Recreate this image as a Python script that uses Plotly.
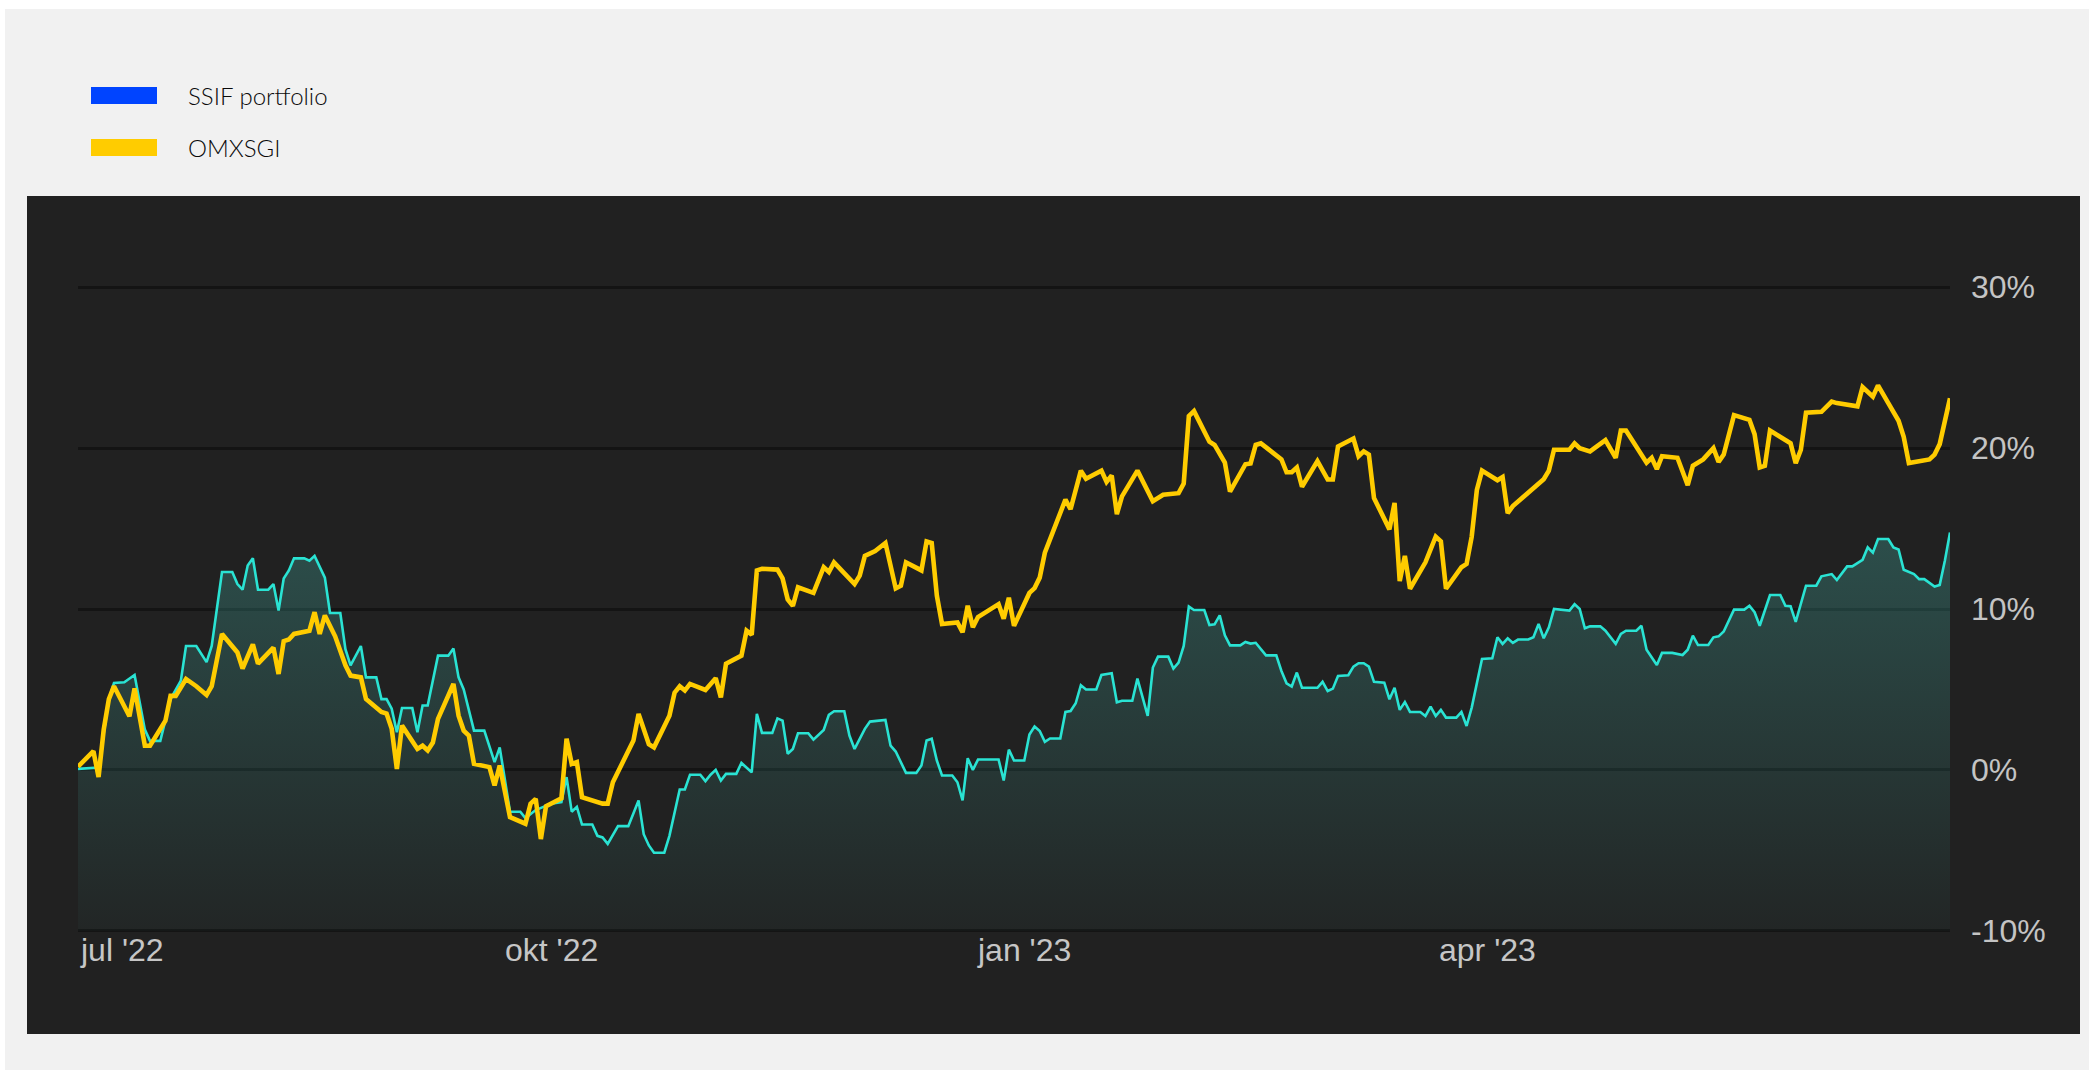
import pandas as pd
import plotly.graph_objects as go

# Start of the period; series positions are given as days since this date
START = pd.Timestamp("2022-07-01")
END = pd.Timestamp("2023-06-30")

# OMXSGI cumulative return (%)
omx_day = [0, 3, 4, 5, 6, 7, 10, 11, 13, 14, 17, 18, 19, 21, 23, 25, 26, 28, 31, 32,
           34, 35, 38, 39, 40, 41, 42, 45, 46, 47, 48, 50, 52, 53, 55, 56, 59, 60, 61, 62,
           63, 66, 67, 68, 69, 70, 73, 74, 75, 76, 77, 80, 81, 82, 84, 87, 88, 89, 90, 91,
           94, 95, 96, 97, 98, 102, 103, 104, 108, 109, 111, 112, 115, 116, 117, 118, 119, 122, 124, 125,
           126, 129, 130, 131, 132, 133, 136, 137, 138, 139, 140, 143, 145, 146, 147, 151, 152, 153, 155, 157,
           159, 160, 161, 164, 165, 166, 167, 168, 171, 172, 173, 174, 175, 179, 180, 181, 182, 185, 186, 187,
           188, 189, 192, 193, 195, 196, 199, 200, 201, 202, 203, 206, 209, 211, 214, 215, 216, 217, 220, 221,
           223, 224, 227, 228, 229, 230, 232, 234, 235, 236, 237, 238, 241, 243, 244, 245, 248, 249, 250, 251,
           252, 255, 256, 257, 258, 259, 262, 264, 265, 266, 269, 270, 271, 272, 273, 276, 277, 278, 279, 285,
           286, 287, 290, 291, 292, 294, 297, 299, 300, 301, 305, 306, 307, 308, 311, 313, 314, 316, 318, 319,
           320, 322, 325, 326, 327, 328, 329, 333, 334, 335, 336, 339, 341, 342, 346, 347, 349, 350, 352, 354,
           355, 356, 360, 361, 362, 363, 364]
omx_pct = [0.2, 1.16, -0.45, 2.5, 4.4, 5.2, 3.33, 5.07, 1.5, 1.5, 3.06, 4.6, 4.6, 5.65, 5.2, 4.66, 5.2, 8.45, 7.3, 6.3,
           7.8, 6.6, 7.6, 5.96, 8.0, 8.1, 8.45, 8.65, 9.8, 8.45, 9.6, 8.3, 6.5, 5.86, 5.75, 4.4, 3.6, 3.5, 2.55, 0.06,
           2.75, 1.3, 1.5, 1.2, 1.7, 3.17, 5.34, 3.37, 2.44, 2.13, 0.37, 0.17, -0.97, 0.27, -2.94, -3.35, -2.1, -1.8, -4.3, -2.26,
           -1.76, 1.93, 0.37, 0.48, -1.7, -2.1, -2.1, -0.77, 1.82, 3.48, 1.6, 1.4, 3.37, 4.8, 5.2, 4.93, 5.34, 4.97, 5.7, 4.5,
           6.6, 7.1, 8.65, 8.4, 12.4, 12.5, 12.45, 11.9, 10.6, 10.2, 11.35, 11.0, 12.6, 12.3, 12.9, 11.55, 12.07, 13.3, 13.6, 14.1,
           11.28, 11.45, 12.9, 12.4, 14.2, 14.1, 10.83, 9.07, 9.17, 8.55, 10.2, 8.86, 9.5, 10.3, 9.4, 10.7, 8.95, 11.0, 11.3, 11.95,
           13.5, 14.3, 16.8, 16.2, 18.6, 18.1, 18.6, 17.9, 18.3, 15.9, 17.0, 18.6, 16.7, 17.1, 17.2, 17.8, 22.0, 22.3, 20.4, 20.2,
           19.1, 17.3, 19.0, 19.05, 20.2, 20.3, 19.8, 19.3, 18.5, 18.5, 18.8, 17.6, 19.2, 18.05, 18.05, 20.1, 20.6, 19.5, 19.8, 19.6,
           16.9, 14.95, 16.6, 11.74, 13.3, 11.26, 12.9, 14.5, 14.2, 11.26, 12.6, 12.8, 14.5, 17.4, 18.6, 18.0, 18.2, 15.96, 16.4, 18.07,
           18.6, 19.9, 19.9, 20.3, 20.0, 19.8, 20.5, 19.4, 21.1, 21.1, 19.1, 19.4, 18.7, 19.5, 19.4, 17.7, 18.9, 19.3, 20.0, 19.15,
           19.6, 22.05, 21.76, 20.87, 18.8, 18.9, 21.1, 20.3, 19.07, 19.9, 22.2, 22.26, 22.9, 22.8, 22.6, 23.8, 23.2, 23.9, 22.8, 21.7,
           20.7, 19.07, 19.3, 19.6, 20.25, 21.6, 23.1]

# SSIF portfolio cumulative return (%)
ssif_day = [0, 3, 4, 6, 7, 9, 10, 11, 13, 14, 16, 18, 20, 21, 23, 25, 26, 28, 30, 31,
            32, 33, 34, 35, 37, 38, 39, 40, 41, 42, 44, 45, 46, 47, 48, 49, 51, 52, 53, 55,
            56, 58, 59, 60, 61, 62, 63, 65, 66, 67, 68, 70, 72, 73, 74, 75, 77, 79, 81, 82,
            84, 86, 87, 89, 92, 94, 95, 96, 97, 98, 100, 101, 102, 103, 105, 107, 109, 110, 111, 112,
            114, 115, 117, 118, 119, 121, 122, 123, 124, 125, 126, 128, 129, 131, 132, 133, 135, 136, 137, 138,
            139, 140, 142, 143, 145, 146, 147, 149, 150, 151, 153, 154, 157, 158, 159, 161, 163, 164, 165, 166,
            167, 168, 170, 171, 172, 173, 174, 175, 179, 180, 181, 182, 184, 185, 186, 187, 188, 189, 191, 192,
            193, 194, 195, 196, 198, 199, 201, 202, 203, 205, 206, 208, 209, 210, 212, 213, 214, 215, 216, 217,
            219, 220, 221, 222, 223, 224, 226, 227, 228, 229, 231, 233, 234, 235, 236, 237, 238, 241, 242, 243,
            244, 245, 247, 248, 249, 250, 251, 252, 254, 255, 256, 257, 258, 259, 261, 262, 263, 264, 265, 266,
            268, 269, 270, 271, 273, 275, 276, 277, 278, 279, 280, 282, 283, 284, 285, 286, 287, 290, 291, 292,
            293, 294, 296, 297, 299, 300, 301, 303, 304, 305, 307, 308, 310, 312, 313, 314, 315, 317, 318, 319,
            320, 322, 324, 325, 326, 327, 329, 331, 332, 333, 334, 336, 338, 339, 341, 342, 344, 345, 347, 348,
            349, 350, 352, 353, 354, 355, 357, 358, 359, 361, 362, 363, 364]
ssif_pct = [0.06, 0.1, 0.15, 4.4, 5.4, 5.45, 5.65, 5.9, 2.5, 1.8, 1.8, 4.4, 5.55, 7.7, 7.7, 6.7, 7.7, 12.3, 12.3, 11.55,
            11.2, 12.7, 13.15, 11.2, 11.2, 11.55, 9.9, 11.9, 12.4, 13.15, 13.15, 13.0, 13.3, 12.6, 11.95, 9.75, 9.75, 7.5, 6.5, 7.7,
            5.75, 5.75, 4.4, 4.4, 3.8, 2.34, 3.85, 3.85, 2.34, 4.0, 4.0, 7.1, 7.1, 7.55, 5.75, 5.0, 2.44, 2.44, 0.48, 1.4,
            -2.6, -2.6, -3.0, -2.5, -2.1, -2.0, -0.45, -2.6, -2.3, -3.4, -3.4, -4.1, -4.2, -4.6, -3.5, -3.5, -1.9, -4.0, -4.7, -5.15,
            -5.15, -4.1, -1.22, -1.22, -0.3, -0.3, -0.7, -0.3, 0.0, -0.66, -0.25, -0.25, 0.43, -0.15, 3.48, 2.3, 2.3, 3.2, 3.06, 1.0,
            1.3, 2.28, 2.28, 1.88, 2.48, 3.42, 3.64, 3.64, 2.13, 1.3, 2.55, 3.0, 3.1, 1.5, 1.14, -0.19, -0.19, 0.27, 1.82, 1.93,
            0.58, -0.35, -0.35, -0.77, -1.9, 0.72, 0.0, 0.64, 0.64, -0.66, 1.26, 0.58, 0.58, 2.2, 2.7, 2.42, 1.74, 1.95, 1.95, 3.6,
            3.66, 4.14, 5.26, 5.0, 5.0, 5.9, 6.0, 4.2, 4.3, 4.3, 5.67, 3.35, 6.36, 7.04, 7.04, 6.3, 6.67, 7.7, 10.15, 9.94,
            9.94, 9.0, 9.05, 9.6, 8.36, 7.74, 7.74, 7.95, 7.85, 7.9, 7.12, 7.12, 6.15, 5.38, 5.18, 6.05, 5.1, 5.1, 5.47, 4.9,
            5.05, 5.84, 5.88, 6.42, 6.63, 6.63, 6.42, 5.47, 5.42, 4.39, 5.1, 3.73, 4.22, 3.6, 3.6, 3.35, 3.93, 3.35, 3.73, 3.25,
            3.25, 3.6, 2.73, 3.87, 6.9, 6.94, 8.24, 7.83, 8.18, 7.89, 8.1, 8.1, 8.24, 9.07, 8.18, 8.86, 10.0, 9.9, 10.3, 10.0,
            8.8, 8.92, 8.92, 8.65, 7.83, 8.45, 8.65, 8.65, 8.96, 7.47, 6.52, 7.27, 7.27, 7.14, 7.47, 8.34, 7.76, 7.76, 8.24, 8.3,
            8.6, 9.96, 9.96, 10.2, 9.8, 8.96, 10.87, 10.87, 10.2, 10.17, 9.2, 11.45, 11.45, 12.03, 12.17, 11.8, 12.65, 12.65, 13.06, 13.83,
            13.5, 14.35, 14.35, 13.83, 13.7, 12.44, 12.17, 11.86, 11.86, 11.4, 11.5, 13.0, 14.76]

# Axis ticks
y_ticks = [-10, 0, 10, 20, 30]
y_labels = ["-10%", "0%", "10%", "20%", "30%"]
x_ticks = ["2022-07-01", "2022-10-01", "2023-01-01", "2023-04-01"]
x_labels = ["jul '22", "okt '22", "jan '23", "apr '23"]

series_names = ["SSIF portfolio", "OMXSGI"]
legend_colors = ["#0044ff", "#ffcc00"]

W, H = 2089, 1070
L, R, T, B = 78, 1950, 286, 932   # plot area in pixels
PAD = 0.08                         # small headroom so the edge gridlines are drawn


def px(x):
    return (x - L) / (R - L)


def py(y):
    return (B - y) / (B - T)


omx_x = START + pd.to_timedelta(omx_day, unit="D")
ssif_x = START + pd.to_timedelta(ssif_day, unit="D")

fig = go.Figure()

# invisible floor at the bottom of the value range for the area fill
fig.add_trace(go.Scatter(
    x=[START, END], y=[y_ticks[0], y_ticks[0]], mode="lines",
    line=dict(width=0, color="rgba(0,0,0,0)"), hoverinfo="skip", showlegend=False))

fig.add_trace(go.Scatter(
    x=ssif_x, y=ssif_pct, mode="lines", name=series_names[0],
    line=dict(color="#2ae3d3", width=2.6),
    fill="tonexty",
    fillgradient=dict(type="vertical", start=-10, stop=15,
                      colorscale=[[0, "rgba(73,197,185,0.03)"],
                                  [1, "rgba(73,197,185,0.28)"]]),
    showlegend=False))

fig.add_trace(go.Scatter(
    x=omx_x, y=omx_pct, mode="lines", name=series_names[1],
    line=dict(color="#ffcc00", width=4.6),
    showlegend=False))

shapes = [
    # page background with thin white border on top/left
    dict(type="rect", xref="paper", yref="paper", layer="below",
         x0=px(5), x1=px(W + 5), y0=py(H + 5), y1=py(9),
         fillcolor="#f1f1f1", line=dict(width=0)),
    # dark chart panel
    dict(type="rect", xref="paper", yref="paper", layer="below",
         x0=px(27), x1=px(2080), y0=py(1034), y1=py(196),
         fillcolor="#212121", line=dict(width=0)),
]
annotations = []

# custom legend
for i, (name, col) in enumerate(zip(series_names, legend_colors)):
    top = 87 + 52 * i
    shapes.append(dict(type="rect", xref="paper", yref="paper", layer="below",
                       x0=px(91), x1=px(157), y0=py(top + 17), y1=py(top),
                       fillcolor=col, line=dict(width=0)))
    annotations.append(dict(text=name, xref="paper", yref="paper",
                            x=px(186), y=py(top + 9), xanchor="left", yanchor="middle",
                            showarrow=False,
                            font=dict(family="Lato", size=24, weight=300, color="#0a0a0a")))

# x tick labels (first one kept inside the plot edge)
for i, (d, lab) in enumerate(zip(x_ticks, x_labels)):
    annotations.append(dict(text=lab, xref="x", yref="paper", x=d, y=py(950),
                            xanchor="left" if i == 0 else "center", yanchor="middle",
                            showarrow=False,
                            font=dict(family="Liberation Sans, Arial", size=32, color="#c6c6c6")))

fig.update_layout(
    width=W, height=H,
    margin=dict(l=L, r=W - R, t=T, b=H - B, pad=0),
    paper_bgcolor="#ffffff",
    plot_bgcolor="rgba(0,0,0,0)",
    shapes=shapes,
    annotations=annotations,
    showlegend=False,
    xaxis=dict(type="date", range=[START, END], showgrid=False, zeroline=False,
               showticklabels=False, showline=False, ticks=""),
    yaxis=dict(side="right", range=[y_ticks[0] - PAD, y_ticks[-1] + PAD],
               tickvals=y_ticks, ticktext=y_labels,
               showgrid=True, gridcolor="#141414", gridwidth=2.6, zeroline=False,
               showline=False, ticks="", ticklabelstandoff=20,
               tickfont=dict(family="Liberation Sans, Arial", size=32, color="#c4c4c4")),
)

fig.write_html("out.html")
